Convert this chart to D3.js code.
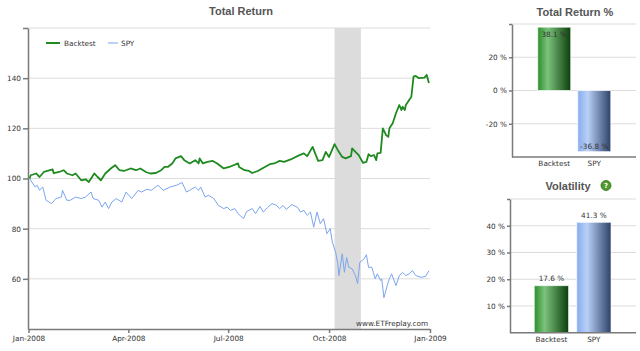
<!DOCTYPE html>
<html lang="en">
<head>
    <meta charset="UTF-8">
    <title>Total Return</title>
    <style>
        body { margin: 0; background: #fff; }
        svg { display: block; }
        text { font-family: 'DejaVu Sans', Verdana, sans-serif; font-size: 7.3px; fill: #333; }
        .title { font-family: 'Liberation Sans', Arial, sans-serif; font-weight: bold; font-size: 11px; fill: #555; }
        .axis path, .axis line { stroke: #7a7a7a; stroke-width: 1.5; }
        .grid line { stroke: #dcdcdc; stroke-width: 1; }
    </style>
</head>
<body>
    <script src="https://cdnjs.cloudflare.com/ajax/libs/d3/7.8.5/d3.min.js"></script>
    <script>
        // series
        var backtestDates = ['2008-01-02','2008-01-03','2008-01-08','2008-01-11','2008-01-15','2008-01-23','2008-01-24','2008-01-29','2008-02-02','2008-02-05',
            '2008-02-10','2008-02-13','2008-02-18','2008-02-22','2008-02-25','2008-03-01','2008-03-04','2008-03-07','2008-03-11','2008-03-16',
            '2008-03-20','2008-03-24','2008-03-28','2008-04-03','2008-04-08','2008-04-12','2008-04-17','2008-04-21','2008-04-26','2008-05-01',
            '2008-05-04','2008-05-07','2008-05-11','2008-05-14','2008-05-19','2008-05-22','2008-05-27','2008-06-01','2008-06-04','2008-06-05',
            '2008-06-08','2008-06-12','2008-06-17','2008-06-21','2008-06-27','2008-07-02','2008-07-10','2008-07-11','2008-07-16','2008-07-20',
            '2008-07-23','2008-07-28','2008-08-01','2008-08-08','2008-08-12','2008-08-17','2008-08-21','2008-08-27','2008-09-04','2008-09-08',
            '2008-09-11','2008-09-16','2008-09-21','2008-09-25','2008-09-28','2008-10-01','2008-10-06','2008-10-09','2008-10-13','2008-10-16',
            '2008-10-21','2008-10-22','2008-10-25','2008-10-28','2008-11-01','2008-11-04','2008-11-06','2008-11-08','2008-11-11','2008-11-13',
            '2008-11-14','2008-11-17','2008-11-19','2008-11-22','2008-11-24','2008-11-25','2008-11-28','2008-12-01','2008-12-04','2008-12-06',
            '2008-12-07','2008-12-09','2008-12-10','2008-12-13','2008-12-15','2008-12-17','2008-12-19','2008-12-22','2008-12-27','2008-12-29',
            '2008-12-31'];
        var backtestValues = [100, 101.3, 102.0, 100.6, 102.6, 103.6, 102.1, 102.6, 103.3, 102.0,
            101.3, 102.0, 99.3, 99.7, 98.6, 102.0, 100.6, 99.3, 102.0, 104.0,
            105.3, 103.3, 103.0, 104.0, 103.3, 104.0, 102.6, 102.0, 102.2, 103.3,
            104.6, 104.6, 106.0, 108.0, 108.9, 107.3, 106.0, 107.3, 106.0, 108.0,
            106.0, 106.6, 107.0, 106.0, 104.0, 104.6, 106.0, 104.6, 103.3, 103.0,
            102.2, 103.0, 104.0, 105.7, 106.0, 107.0, 106.6, 107.6, 109.3, 110.0,
            108.9, 112.6, 107.0, 107.3, 110.6, 108.6, 113.7, 111.3, 108.6, 108.0,
            108.9, 112.0, 110.6, 109.3, 106.2, 106.6, 109.7, 108.9, 109.3, 107.3,
            110.0, 110.2, 120.0, 117.3, 116.6, 120.0, 122.0, 126.0, 129.3, 127.3,
            128.6, 127.3, 129.3, 131.3, 132.6, 140.6, 140.9, 140.0, 140.2, 141.3,
            138.1];

        var spyDates = ['2008-01-02','2008-01-04','2008-01-07','2008-01-09','2008-01-11','2008-01-14','2008-01-17','2008-01-22','2008-01-26','2008-01-31',
            '2008-02-01','2008-02-05','2008-02-08','2008-02-13','2008-02-18','2008-02-22','2008-02-27','2008-02-29','2008-03-05','2008-03-08',
            '2008-03-11','2008-03-14','2008-03-17','2008-03-21','2008-03-26','2008-03-30','2008-04-04','2008-04-10','2008-04-13','2008-04-18',
            '2008-04-22','2008-04-28','2008-05-03','2008-05-09','2008-05-15','2008-05-20','2008-05-24','2008-05-27','2008-06-01','2008-06-04',
            '2008-06-06','2008-06-10','2008-06-13','2008-06-18','2008-06-22','2008-06-27','2008-06-30','2008-07-03','2008-07-07','2008-07-10',
            '2008-07-15','2008-07-18','2008-07-23','2008-07-26','2008-07-30','2008-08-02','2008-08-06','2008-08-10','2008-08-14','2008-08-17',
            '2008-08-20','2008-08-23','2008-08-28','2008-09-02','2008-09-05','2008-09-08','2008-09-11','2008-09-14','2008-09-17','2008-09-20',
            '2008-09-23','2008-09-26','2008-09-29','2008-10-02','2008-10-04','2008-10-07','2008-10-09','2008-10-10','2008-10-13','2008-10-15',
            '2008-10-17','2008-10-19','2008-10-22','2008-10-25','2008-10-27','2008-10-29','2008-11-02','2008-11-04','2008-11-06','2008-11-09',
            '2008-11-12','2008-11-14','2008-11-17','2008-11-18','2008-11-20','2008-11-23','2008-11-25','2008-11-27','2008-12-01','2008-12-04',
            '2008-12-07','2008-12-10','2008-12-13','2008-12-16','2008-12-19','2008-12-24','2008-12-28','2008-12-31'];
        var spyValues = [100, 98.6, 96.6, 97.3, 95.3, 96.6, 91.3, 90.0, 92.0, 92.6,
            95.3, 91.3, 91.3, 92.6, 92.0, 92.6, 94.6, 92.0, 91.3, 88.6,
            90.6, 88.0, 90.6, 92.0, 90.6, 94.6, 92.0, 95.3, 94.6, 95.7,
            95.3, 97.3, 95.3, 96.6, 97.3, 98.4, 94.6, 95.3, 96.6, 95.3,
            96.6, 92.6, 93.3, 92.0, 89.3, 88.0, 88.6, 87.3, 88.0, 86.0,
            84.0, 86.9, 88.0, 86.0, 88.9, 86.6, 88.5, 90.0, 89.3, 88.0,
            89.3, 87.7, 89.6, 88.6, 86.6, 87.3, 85.3, 86.6, 80.6, 86.6,
            82.0, 84.0, 78.0, 80.0, 74.6, 70.5, 66.0, 61.3, 70.0, 62.6,
            68.5, 64.6, 64.0, 61.3, 58.1, 66.6, 68.0, 69.6, 64.6, 64.6,
            60.0, 62.0, 59.3, 60.0, 52.5, 57.3, 60.1, 62.0, 57.3, 61.3,
            62.6, 61.3, 62.0, 63.3, 61.3, 60.6, 61.0, 63.2];

        var yTicks = [60, 80, 100, 120, 140, 160];
        var xTicks = ['2008-01-01', '2008-04-01', '2008-07-01', '2008-10-01', '2009-01-01'];
        var shadeRange = ['2008-10-06', '2008-10-30'];

        var categories = ['Backtest', 'SPY'];
        var totalReturn = [38.1, -36.8];
        var volatility = [17.6, 41.3];
        var returnTicks = [-20, 0, 20, 40];
        var volTicks = [10, 20, 30, 40, 50];

        var parseDate = d3.timeParse('%Y-%m-%d');
        var greenLine = '#1f8a1f', blueLine = '#7ba5ef';

        var svg = d3.select('body')
                    .append('svg')
                    .attr('width', 640)
                    .attr('height', 351);

        // gradients for the bars
        var defs = svg.append('defs');
        function grad(id, stops) {
            var g = defs.append('linearGradient').attr('id', id)
                .attr('x1', 0).attr('x2', 1).attr('y1', 0).attr('y2', 0);
            stops.forEach(function (s) {
                g.append('stop').attr('offset', s[0]).attr('stop-color', s[1]);
            });
        }
        grad('gGreen', [[0, '#2a8f2a'], [0.3, '#7cc27c'], [1, '#0b3f0b']]);
        grad('gBlue', [[0, '#86abee'], [0.3, '#b9d0f8'], [1, '#2d4168']]);
        var barFill = ['url(#gGreen)', 'url(#gBlue)'];

        // ---------- main line chart ----------
        var plot = { left: 28, right: 430, top: 28, bottom: 329 };
        var x = d3.scaleTime()
            .domain([parseDate('2008-01-01'), parseDate('2009-01-01')])
            .range([plot.left + 0.5, plot.right]);
        var y = d3.scaleLinear().domain([40, 160]).range([plot.bottom, plot.top]);

        var backtest = backtestDates.map(function (d, i) { return { date: parseDate(d), value: backtestValues[i] }; });
        var spy = spyDates.map(function (d, i) { return { date: parseDate(d), value: spyValues[i] }; });

        svg.append('text')
            .attr('class', 'title')
            .attr('x', 241)
            .attr('y', 15)
            .attr('text-anchor', 'middle')
            .text('Total Return');

        // shaded band
        svg.append('rect')
            .attr('x', x(parseDate(shadeRange[0])))
            .attr('y', plot.top)
            .attr('width', x(parseDate(shadeRange[1])) - x(parseDate(shadeRange[0])))
            .attr('height', plot.bottom - plot.top)
            .attr('fill', '#dcdcdc');

        svg.append('g')
            .attr('class', 'grid')
            .selectAll('line')
            .data(yTicks)
            .enter()
            .append('line')
            .attr('x1', plot.left)
            .attr('x2', plot.right)
            .attr('y1', function (d) { return y(d); })
            .attr('y2', function (d) { return y(d); });

        var line = d3.line()
            .x(function (d) { return x(d.date); })
            .y(function (d) { return y(d.value); });

        svg.append('path')
            .datum(spy)
            .attr('fill', 'none')
            .attr('stroke', blueLine)
            .attr('stroke-width', 1)
            .attr('d', line);

        svg.append('path')
            .datum(backtest)
            .attr('fill', 'none')
            .attr('stroke', greenLine)
            .attr('stroke-width', 1.8)
            .attr('stroke-linejoin', 'round')
            .attr('d', line);

        svg.append('g')
            .attr('class', 'axis')
            .attr('transform', 'translate(' + plot.left + ',0)')
            .call(d3.axisLeft(y).tickValues(yTicks).tickSize(5).tickSizeOuter(0).tickPadding(2)
                .tickFormat(function (d) { return d === 160 ? '' : d; }));

        svg.append('g')
            .attr('class', 'axis')
            .attr('transform', 'translate(0,' + plot.bottom + ')')
            .call(d3.axisBottom(x).tickValues(xTicks.map(parseDate)).tickSize(4).tickSizeOuter(0)
                .tickFormat(d3.timeFormat('%b-%Y')));

        // legend
        var legend = svg.append('g').attr('transform', 'translate(46,43)');
        [['Backtest', greenLine, 0, 2], ['SPY', blueLine, 62, 1]].forEach(function (l) {
            legend.append('line')
                .attr('x1', l[2]).attr('x2', l[2] + (l[0] === 'SPY' ? 10 : 14))
                .attr('stroke', l[1]).attr('stroke-width', l[3]);
            legend.append('text')
                .attr('x', l[2] + (l[0] === 'SPY' ? 13 : 18))
                .attr('y', 2.6)
                .text(l[0]);
        });

        svg.append('text')
            .attr('x', 428)
            .attr('y', 325.5)
            .attr('text-anchor', 'end')
            .text('www.ETFreplay.com');

        // ---------- small bar charts ----------
        function barChart(opt) {
            var xb = d3.scaleBand().domain(categories).range(opt.xRange)
                .paddingInner(opt.pin).paddingOuter(opt.pout);
            var yb = d3.scaleLinear().domain(opt.yDomain).range(opt.yRange);

            svg.append('g')
                .attr('class', 'grid')
                .selectAll('line')
                .data(opt.ticks)
                .enter()
                .append('line')
                .attr('x1', opt.axisX)
                .attr('x2', 636)
                .attr('y1', function (d) { return yb(d); })
                .attr('y2', function (d) { return yb(d); });

            svg.append('g')
                .selectAll('rect')
                .data(opt.values)
                .enter()
                .append('rect')
                .attr('x', function (d, i) { return xb(categories[i]); })
                .attr('y', function (d) { return yb(Math.max(0, d)); })
                .attr('width', xb.bandwidth())
                .attr('height', function (d) { return Math.abs(yb(d) - yb(0)); })
                .attr('fill', function (d, i) { return barFill[i]; })
                .attr('stroke', 'rgba(255,255,255,0.7)')
                .attr('stroke-width', 1);

            svg.append('g')
                .selectAll('text')
                .data(opt.values)
                .enter()
                .append('text')
                .attr('x', function (d, i) { return xb(categories[i]) + xb.bandwidth() / 2; })
                .attr('y', opt.labelY(yb))
                .attr('text-anchor', 'middle')
                .text(function (d) { return d.toFixed(1) + ' %'; });

            svg.append('g')
                .attr('class', 'axis')
                .attr('transform', 'translate(' + opt.axisX + ',0)')
                .call(d3.axisLeft(yb).tickValues(opt.ticks).tickSize(3).tickSizeOuter(0).tickPadding(2)
                    .tickFormat(function (d) { return d === opt.yDomain[1] ? '' : d + ' %'; }));

            var xa = svg.append('g')
                .attr('class', 'axis')
                .attr('transform', 'translate(0,' + opt.yRange[0] + ')')
                .call(d3.axisBottom(xb).tickSize(0).tickPadding(4));
            xa.select('.domain').attr('d', 'M' + opt.axisX + ',0H636');

            svg.append('text')
                .attr('class', 'title')
                .attr('x', opt.titleX)
                .attr('y', opt.titleY)
                .attr('text-anchor', 'middle')
                .text(opt.title);
        }

        barChart({
            title: 'Total Return %', titleX: 575, titleY: 15.5,
            values: totalReturn, axisX: 512,
            xRange: [512.5, 636], pin: 0.175, pout: 0.63,
            yDomain: [-40, 40], yRange: [157, 24], ticks: returnTicks,
            labelY: function (yb) {
                return function (d) { return d >= 0 ? yb(d) + 9.5 : yb(d) - 3; };
            }
        });

        barChart({
            title: 'Volatility', titleX: 568, titleY: 189.5,
            values: volatility, axisX: 510,
            xRange: [510.5, 634.8], pin: 0.19, pout: 0.56,
            yDomain: [0, 50], yRange: [332.7, 199], ticks: volTicks,
            labelY: function (yb) {
                return function (d) { return yb(d) - 4.5; };
            }
        });

        // little help icon next to Volatility
        var help = svg.append('g').attr('transform', 'translate(606,185.5)');
        help.append('circle').attr('r', 5).attr('fill', '#4f9a2e').attr('stroke', '#2f6e18').attr('stroke-width', 0.8);
        help.append('text')
            .attr('y', 2.6)
            .attr('text-anchor', 'middle')
            .style('font-size', '7px')
            .style('font-weight', 'bold')
            .style('fill', '#fff')
            .text('?');
    </script>
</body>
</html>
